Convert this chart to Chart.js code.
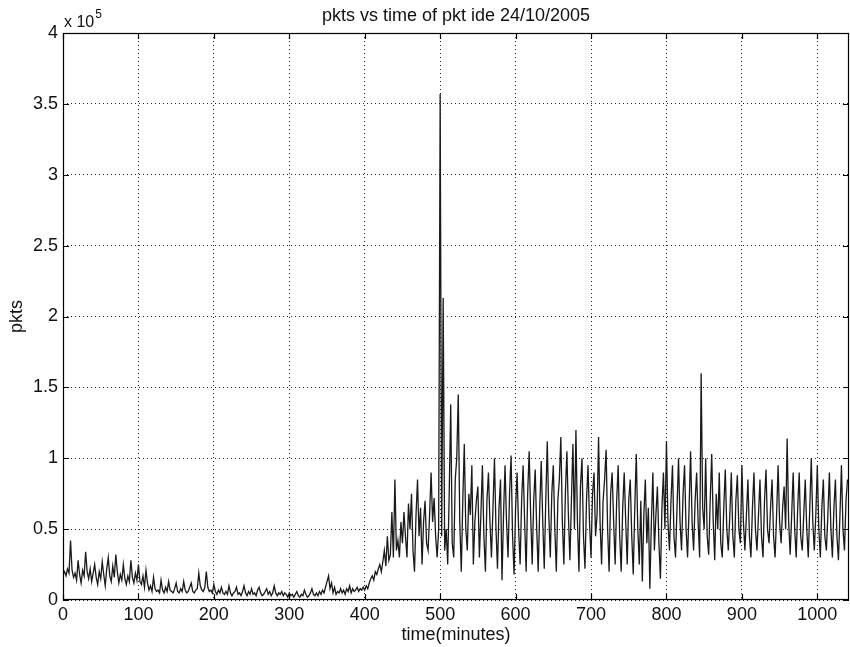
<!DOCTYPE html>
<html>
<head>
<meta charset="utf-8">
<script src="https://cdn.jsdelivr.net/npm/chart.js@4"></script>
<style>
    html, body { margin: 0; padding: 0; background: #fff; }
    #pktChart { display: block; }
</style>
</head>
<body>
<canvas id="pktChart" width="850" height="647"></canvas>
<script>
// Packet counts (units of 10^5 pkts), one reading every 2 minutes
const STEP_MINUTES = 2;
const CHART_TITLE = 'pkts vs time of pkt ide 24/10/2005';
const X_TICKS = [0, 100, 200, 300, 400, 500, 600, 700, 800, 900, 1000];

// 0 - 398 min: quiet night traffic
const pktsQuiet = [
    0.18, 0.20, 0.17, 0.22, 0.19,
    0.42, 0.21, 0.16, 0.19, 0.14,
    0.28, 0.18, 0.12, 0.21, 0.17,
    0.34, 0.20, 0.15, 0.22, 0.13,
    0.19, 0.25, 0.16, 0.11, 0.20,
    0.15, 0.27, 0.18, 0.10, 0.22,
    0.30, 0.17, 0.13, 0.24, 0.16,
    0.32, 0.20, 0.12, 0.18, 0.14,
    0.25, 0.15, 0.11, 0.17, 0.13,
    0.28, 0.16, 0.12, 0.19, 0.14,
    0.25, 0.13, 0.11, 0.17, 0.09,
    0.21, 0.12, 0.07, 0.10, 0.06,
    0.16, 0.08, 0.06, 0.07, 0.05,
    0.14, 0.07, 0.05, 0.09, 0.06,
    0.13, 0.07, 0.06, 0.05, 0.08,
    0.12, 0.06, 0.05, 0.08, 0.06,
    0.13, 0.07, 0.05, 0.06, 0.09,
    0.12, 0.06, 0.05, 0.07, 0.08,
    0.19, 0.10, 0.07, 0.06, 0.09,
    0.20, 0.09, 0.06, 0.07, 0.05,
    0.11, 0.06, 0.04, 0.07, 0.05,
    0.09, 0.05, 0.04, 0.06, 0.04,
    0.10, 0.05, 0.03, 0.05, 0.06,
    0.09, 0.04, 0.05, 0.03, 0.06,
    0.10, 0.05, 0.03, 0.06, 0.04,
    0.08, 0.04, 0.05, 0.03, 0.07,
    0.09, 0.05, 0.03, 0.04, 0.06,
    0.08, 0.04, 0.06, 0.03, 0.05,
    0.10, 0.05, 0.03, 0.05, 0.04,
    0.06, 0.03, 0.05, 0.04, 0.02,
    0.05, 0.03, 0.04, 0.02, 0.04,
    0.06, 0.03, 0.02, 0.04, 0.03,
    0.07, 0.04, 0.02, 0.03, 0.05,
    0.08, 0.04, 0.03, 0.05, 0.03,
    0.06, 0.04, 0.07, 0.05, 0.09,
    0.13, 0.17, 0.08, 0.12, 0.05,
    0.09, 0.04, 0.06, 0.05, 0.08,
    0.05, 0.07, 0.04, 0.08, 0.06,
    0.10, 0.05, 0.08, 0.06, 0.07,
    0.09, 0.06, 0.08, 0.07, 0.09
];

// 400 - 498 min: morning ramp-up
const pktsRamp = [
    0.07, 0.10, 0.08, 0.12, 0.15,
    0.17, 0.14, 0.20, 0.18, 0.22,
    0.25, 0.20, 0.27, 0.35, 0.24,
    0.45, 0.28, 0.32, 0.62, 0.30,
    0.85, 0.35, 0.42, 0.30, 0.55,
    0.40, 0.62, 0.45, 0.30, 0.68,
    0.50, 0.75, 0.35, 0.20, 0.60,
    0.85, 0.45, 0.65, 0.25, 0.55,
    0.70, 0.40, 0.35, 0.60, 0.90,
    0.55, 0.72, 0.45, 0.30, 0.50
];

// 500 - 1040 min: daytime traffic
const pktsBusy = [
    3.57, 0.45, 2.13, 0.35, 0.50,
    0.25, 0.75, 1.38, 0.40, 0.30,
    0.85, 1.00, 1.45, 0.55, 0.20,
    0.70, 1.10, 0.50, 0.35, 0.75,
    0.60, 0.95, 0.25, 0.55, 0.70,
    0.80, 0.30, 0.60, 0.95, 0.45,
    0.20, 0.70, 0.90, 0.55, 0.30,
    0.65, 1.00, 0.50, 0.22, 0.65,
    0.85, 0.14, 0.60, 0.95, 0.55,
    0.30, 0.75, 1.02, 0.45, 0.18,
    0.65, 0.90, 0.50, 0.25, 0.70,
    0.95, 0.55, 0.20, 0.75, 1.05,
    0.60, 0.25, 0.70, 0.92, 0.50,
    0.20, 0.65, 0.98, 0.55, 0.22,
    0.70, 1.12, 0.60, 0.30, 0.75,
    0.95, 0.50, 0.20, 0.70, 0.85,
    1.15, 0.55, 0.25, 0.75, 1.05,
    0.60, 0.28, 0.70, 1.10, 0.50,
    1.20, 0.55, 0.20, 0.80, 1.00,
    0.45, 0.22, 0.70, 0.95, 0.55,
    0.30, 0.75, 0.90, 0.45, 0.60,
    1.15, 0.55, 0.25, 0.70, 0.85,
    1.06, 0.50, 0.20, 0.75, 0.90,
    0.55, 0.25, 0.70, 0.95, 0.45,
    0.20, 0.65, 0.90, 0.55, 0.25,
    0.70, 0.85, 0.45, 0.18, 0.65,
    1.03, 0.50, 0.25, 0.70, 0.13,
    0.60, 0.85, 0.40, 0.65, 0.08,
    0.55, 0.90, 0.35, 0.60, 0.80,
    0.40, 0.15, 0.65, 0.90, 0.50,
    1.12, 0.55, 0.35, 0.70, 0.95,
    0.45, 0.30, 0.65, 1.00, 0.55,
    0.35, 0.75, 0.95, 0.50, 0.30,
    0.65, 1.05, 0.55, 0.35, 0.70,
    0.90, 0.55, 0.30, 1.60, 0.65,
    0.50, 1.00, 0.45, 0.32, 0.70,
    1.03, 0.55, 0.28, 0.75, 0.50,
    0.90, 0.40, 0.30, 0.65, 0.92,
    0.50, 0.35, 0.60, 0.90, 0.45,
    0.30, 0.70, 0.88, 0.50, 0.40,
    0.95, 0.55, 0.35, 0.60, 0.85,
    0.45, 0.30, 0.65, 0.90, 0.50,
    0.35, 0.60, 0.85, 0.45, 0.30,
    0.70, 0.92, 0.50, 0.40, 0.65,
    0.85, 0.45, 0.30, 0.60, 0.95,
    0.55, 0.40, 0.65, 0.80, 0.50,
    1.14, 0.55, 0.32, 0.60, 0.90,
    0.50, 0.30, 0.65, 0.90, 0.45,
    0.35, 0.60, 0.85, 0.50, 0.30,
    0.65, 1.00, 0.55, 0.35, 0.60,
    0.95, 0.50, 0.30, 0.65, 0.85,
    0.45, 0.35, 0.60, 0.90, 0.50,
    0.30, 0.65, 0.85, 0.45, 0.28,
    0.60, 0.95, 0.50, 0.35, 0.70,
    0.85
];

const FONT = 'Arial, "Liberation Sans", Helvetica, sans-serif';

const pkts = pktsQuiet.concat(pktsRamp, pktsBusy);
const points = pkts.map((v, i) => ({ x: i * STEP_MINUTES, y: v }));

// MATLAB style frame: white page, box, inward ticks, title and exponent label
const matlabFrame = {
    id: 'matlabFrame',
    beforeDraw(chart) {
        const ctx = chart.ctx;
        ctx.save();
        ctx.fillStyle = '#fff';
        ctx.fillRect(0, 0, chart.width, chart.height);
        ctx.restore();
    },
    afterDraw(chart) {
        const ctx = chart.ctx;
        const a = chart.chartArea;
        const xs = chart.scales.x, ys = chart.scales.y;
        ctx.save();
        ctx.strokeStyle = '#000';
        ctx.lineWidth = 1.2;
        ctx.strokeRect(a.left + 0.5, a.top + 0.5, a.right - a.left - 1, a.bottom - a.top - 1);

        ctx.beginPath();
        xs.ticks.forEach(t => {
            const px = Math.round(xs.getPixelForValue(t.value)) + 0.5;
            ctx.moveTo(px, a.bottom); ctx.lineTo(px, a.bottom - 6);
            ctx.moveTo(px, a.top); ctx.lineTo(px, a.top + 6);
        });
        ys.ticks.forEach(t => {
            const py = Math.round(ys.getPixelForValue(t.value)) + 0.5;
            ctx.moveTo(a.left, py); ctx.lineTo(a.left + 6, py);
            ctx.moveTo(a.right, py); ctx.lineTo(a.right - 6, py);
        });
        ctx.stroke();

        ctx.fillStyle = '#111';
        ctx.textBaseline = 'alphabetic';
        ctx.textAlign = 'center';
        ctx.font = '18px ' + FONT;
        ctx.fillText(CHART_TITLE, (a.left + a.right) / 2, 21);

        ctx.textAlign = 'left';
        ctx.font = '16px ' + FONT;
        ctx.fillText('x 10', a.left + 1, 27);
        const w = ctx.measureText('x 10').width;
        ctx.font = '12px ' + FONT;
        ctx.fillText('5', a.left + 2 + w, 18);
        ctx.restore();
    }
};

new Chart(document.getElementById('pktChart'), {
    type: 'line',
    data: {
        datasets: [{
            label: 'pkts',
            data: points,
            borderColor: '#1a1a1a',
            borderWidth: 1.3,
            pointRadius: 0,
            tension: 0
        }]
    },
    options: {
        responsive: false,
        animation: false,
        layout: { padding: { top: 33, right: 1, left: 0, bottom: 0 } },
        plugins: {
            legend: { display: false },
            title: { display: false },
            tooltip: { enabled: false }
        },
        scales: {
            x: {
                type: 'linear',
                min: 0,
                max: 1042,
                afterBuildTicks: s => { s.ticks = X_TICKS.map(v => ({ value: v })); },
                afterFit: s => { s.height = 47; },
                grid: { color: '#222', drawTicks: false },
                border: { display: false, dash: [1, 3] },
                ticks: {
                    color: '#111',
                    padding: 4,
                    maxRotation: 0,
                    font: { family: FONT, size: 18 },
                    callback: v => String(v)
                },
                title: {
                    display: true,
                    text: 'time(minutes)',
                    color: '#111',
                    padding: { top: 0, bottom: 1 },
                    font: { family: FONT, size: 18 }
                }
            },
            y: {
                min: 0,
                max: 4,
                afterFit: s => { s.width = 63; },
                grid: { color: '#222', drawTicks: false },
                border: { display: false, dash: [1, 3] },
                ticks: {
                    stepSize: 0.5,
                    color: '#111',
                    padding: 5,
                    font: { family: FONT, size: 18 },
                    callback: v => String(v)
                },
                title: {
                    display: true,
                    text: 'pkts',
                    color: '#111',
                    padding: { top: 6, bottom: 0 },
                    font: { family: FONT, size: 18 }
                }
            }
        }
    },
    plugins: [matlabFrame]
});
</script>
</body>
</html>
